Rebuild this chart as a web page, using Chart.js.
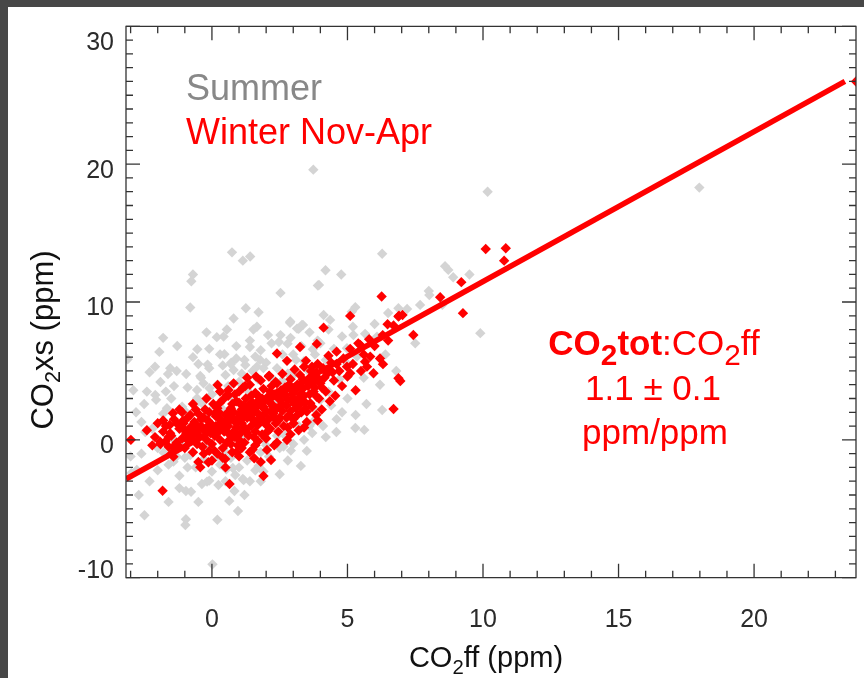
<!DOCTYPE html>
<html><head><meta charset="utf-8">
<script src="https://cdn.jsdelivr.net/npm/chart.js@4"></script>
<style>
html,body{margin:0;padding:0;background:#474747;width:864px;height:678px;overflow:hidden}
#wrap{position:absolute;left:8px;top:7px;width:856px;height:671px;background:#fff}
canvas{display:block}
</style></head><body>
<div id="wrap"><canvas id="c" width="856" height="671"></canvas></div>
<script>
// ---- axis ranges & ticks ----
const xRange = [-3.17, 23.76];
const yRange = [-10, 30];
const xMajorTicks = [0, 5, 10, 15, 20];
const yMajorTicks = [-10, 0, 10, 20, 30];
const xTickLabels = ['0', '5', '10', '15', '20'];
const yTickLabels = ['-10', '0', '10', '20', '30'];

// ---- fit line endpoints ----
const fitLine = [[-3.17, -2.84], [23.35, 26.0]];

// ---- Winter (Nov-Apr) points: [CO2ff, CO2xs] ----
const winterPoints = [
[10.1,13.85],[10.84,13.9],[10.78,13.0],[9.2,11.44],[9.26,9.19],[8.42,10.35],[6.26,10.4],[7.43,7.61],
[5.1,8.99],[6.48,8.39],[6.88,8.94],[7.03,9.06],[4.12,8.14],[3.25,6.74],[3.87,6.96],[2.77,5.73],
[6.31,5.49],[5.47,6.89],[5.84,6.04],[5.96,4.83],[5.65,5.67],[5.72,5.31],[6.88,4.47],[4.98,5.31],
[5.1,4.83],[6.95,4.27],[6.7,2.24],[2.4,6.26],[3.47,5.73],[3.69,5.31],[1.63,4.59],[2.11,4.66],
[23.76,26.0],[-2.99,0.0],[-1.82,-3.69],[0.65,-3.2],[0.21,3.98],[0.61,3.62],[0.55,3.26],[1.23,3.91],
[-1.44,1.93],[-1.56,1.08],[-1.54,0.48],[-1.91,-0.13],[-1.72,-0.13],[-1.42,-0.49],[-1.07,1.39],[-0.86,0.72],
[-0.8,0.23],[-0.55,0.48],[-1.42,-1.22],[-0.43,-1.99],[-0.13,-1.63],[0.49,-1.39],[1.56,-1.34],[1.9,-2.62],
[2.18,-1.46],[2.03,-0.73],[2.77,-0.01],[3.5,2.05],[3.63,2.66],[3.87,3.13],[3.01,3.02],[3.32,3.86],
[3.75,4.22],[2.27,1.93],[3.01,1.2],
[-2.1,0.2],[-1.9,-0.3],[-1.8,0.6],[-1.7,1.0],[-1.6,-0.5],[-1.5,0.3],[-1.4,1.5],[-1.3,-0.2],
[-1.2,0.8],[-1.1,0.1],[-1.05,1.2],[-1.0,-0.6],[-0.95,0.5],[-0.9,1.6],[-0.85,-0.1],[-0.8,0.9],
[-0.75,0.3],[-0.7,-0.9],[-0.65,1.3],[-0.6,0.6],[-0.55,-0.3],[-0.5,1.9],[-0.45,0.2],[-0.4,1.0],
[-0.35,-0.5],[-0.3,0.7],[-0.25,2.2],[-0.2,0.0],[-0.15,1.4],[-0.1,-0.8],[-0.05,0.5],[0.0,1.1],
[0.0,-0.3],[0.05,2.6],[0.1,0.3],[0.15,1.7],[0.2,-1.0],[0.2,0.8],[0.25,2.0],[0.3,0.0],
[0.35,1.3],[0.4,-0.6],[0.4,2.9],[0.45,0.6],[0.5,1.8],[0.55,-0.2],[0.6,1.0],[0.6,3.2],
[0.65,0.4],[0.7,2.3],[0.75,-0.9],[0.8,1.5],[0.85,0.2],[0.9,2.8],[0.9,0.9],[0.95,-0.4],
[1.0,1.9],[1.0,3.5],[1.05,0.5],[1.1,1.2],[1.15,2.5],[1.2,-0.2],[1.2,0.9],[1.25,3.0],
[1.3,1.6],[1.35,0.3],[1.4,2.1],[1.4,4.0],[1.45,1.0],[1.5,-0.7],[1.5,2.7],[1.55,1.4],
[1.6,0.6],[1.6,3.4],[1.65,2.0],[1.7,-0.1],[1.7,1.1],[1.75,2.9],[1.8,1.7],[1.8,4.3],
[1.85,0.4],[1.9,2.4],[1.9,3.7],[1.95,1.3],[2.0,0.1],[2.0,2.0],[2.05,3.1],[2.1,1.5],
[2.1,4.6],[2.15,0.8],[2.2,2.6],[2.2,3.9],[2.25,1.9],[2.3,-0.4],[2.3,3.3],[2.35,1.2],
[2.4,2.3],[2.4,4.1],[2.45,0.6],[2.5,2.9],[2.5,1.6],[2.55,3.6],[2.6,2.1],[2.6,4.8],
[2.65,1.0],[2.7,3.2],[2.75,2.5],[2.8,0.9],[2.8,3.9],[2.85,1.8],[2.9,4.4],[2.95,2.8],
[3.0,1.5],[3.0,3.5],[3.05,5.1],[3.1,2.3],[3.15,4.0],[3.2,0.7],[3.2,3.0],[3.25,4.7],
[3.3,2.0],[3.35,3.7],[3.4,5.3],[3.45,2.7],[3.5,4.2],[3.5,1.3],[3.6,3.3],[3.65,5.0],
[3.7,2.4],[3.75,4.5],[3.8,3.8],[3.85,1.8],[3.9,5.5],[3.95,3.0],[4.0,4.1],[4.05,2.2],
[4.1,5.2],[4.2,3.5],[4.25,4.8],[4.3,6.1],[4.35,2.8],[4.4,5.6],[4.5,4.3],[4.55,3.2],
[4.6,6.4],[4.7,5.0],[4.8,3.9],[4.85,5.9],[5.0,4.6],[5.1,6.6],[5.2,5.5],[5.3,3.6],
[5.4,7.0],[5.5,5.0],[5.6,6.2],[5.8,7.3],[6.0,6.8],[6.2,5.9],[6.3,7.6],[6.5,7.2],
[6.7,8.3],[6.9,9.0],
[0.0,-1.5],[0.5,-2.0],[-0.5,-1.6],[1.0,-1.2],[1.8,-1.6],[-1.5,-1.0],[-2.0,1.2],[-1.2,2.2],
[-0.7,2.6],[-0.2,3.0],[0.3,3.5],[0.8,4.1],[1.3,4.5],[1.1,-0.6],[0.7,-0.3],[1.6,-0.4],
[2.4,-0.2],[2.9,0.4],[3.4,0.9],[3.9,1.4],[0.3,1.5],[0.6,2.0],[0.9,1.2],[1.2,1.7],
[1.5,1.9],[1.8,2.5],[2.1,2.8],[2.4,3.4],[2.7,3.8],[1.1,2.2],[1.4,2.6],[1.7,3.2],
[0.2,0.5],[0.5,0.9],[0.8,0.6],[1.0,0.0],[1.3,0.5],[1.6,1.3],[2.0,1.1],[2.3,1.6],
[2.6,2.6],[2.9,2.1],[3.2,2.5],[3.4,3.2],[-0.3,1.6],[-0.6,1.1],[-0.9,0.0],[-1.2,-0.5],
[0.1,1.9],[0.3,2.7],[0.45,1.1],[0.65,1.7],[0.75,2.6],[0.85,3.3],[0.95,0.3],[1.05,1.5],
[1.15,3.8],[1.25,0.7],[1.35,2.3],[1.45,3.2],[1.55,0.2],[1.65,2.7],[1.75,1.5],[1.85,3.0],
[1.95,2.2],[2.05,0.6],[2.15,3.5],[2.25,2.4],[2.35,4.2],[2.45,1.4],[2.55,2.5],[2.65,3.4],
[2.75,1.6],[2.85,4.0],[2.95,3.3],[3.05,2.6],[3.15,1.8],[3.25,3.3],[3.35,4.4],[3.45,2.3],
[3.55,3.9],[3.65,4.6],[3.75,3.5],[3.85,4.9],[3.95,4.4],[4.05,3.8],[4.15,4.5],[4.3,5.1],
[4.45,4.9],[4.6,5.5],[-0.1,2.0],[-0.2,0.9],[-0.4,1.5],[-0.6,2.2],[-0.8,1.8],[-1.0,0.7],
[-1.1,2.0],[-1.3,1.2],[-1.6,0.2],[-1.8,1.4],[-2.2,-0.4],[-2.4,0.7],[-0.3,-1.0],[0.1,-0.8],
[0.4,-1.3],[0.9,-0.9],[1.4,-0.9],[0.35,0.9],[0.55,1.4],[0.15,1.0],[0.7,0.1],[0.8,2.0],
[1.0,2.7],[1.25,2.0],[1.45,1.6],[1.6,2.3],[1.9,1.8],[2.2,2.1],[2.5,3.3],[2.8,2.9],
[3.1,3.7],[3.3,2.8],[3.6,4.1],[0.2,2.3],[-0.5,0.9],[-0.7,0.0],[0.0,0.6],[0.6,0.5]
];

// ---- Summer points: [CO2ff, CO2xs] ----
const summerPoints = [
[3.74,19.6],[10.17,18.0],[17.98,18.3],[0.74,13.6],[1.14,13.0],[1.41,13.3],[-0.7,12.0],[-0.76,11.5],
[2.53,10.66],[3.91,11.2],[-0.8,9.6],[1.25,9.55],[1.72,9.26],[2.88,8.5],[3.36,8.34],[3.14,8.07],
[0.55,8.0],[0.18,7.45],[0.43,7.49],[1.53,8.0],[1.66,8.2],[2.07,7.6],[2.53,7.6],[2.47,7.1],
[2.79,6.98],[3.72,6.57],[-1.94,6.38],[-1.28,6.81],[-0.54,6.57],[-0.16,5.46],[0.46,6.21],[1.4,6.74],
[0.71,5.6],[0.8,5.07],[-1.54,5.2],[-1.62,4.78],[-0.95,4.78],[-0.43,4.64],[1.23,5.43],[1.6,6.04],
[1.78,5.8],[1.66,5.31],[1.9,5.2],[-3.11,5.85],[6.28,13.5],[4.19,12.3],[4.77,12.0],[3.95,11.24],
[8.72,12.33],[9.9,7.74],[8.02,10.5],[7.68,9.79],[5.29,9.62],[5.16,9.3],[6.88,9.55],[4.12,9.06],
[4.36,8.7],[2.89,8.58],[3.32,8.34],[3.2,8.05],[5.22,7.61],[5.65,7.69],[6.09,7.49],[4.98,6.65],
[5.35,6.04],[5.29,0.86],[4.59,0.57],[5.62,0.72],[6.28,2.17],[-2.97,-2.4],[-2.49,-5.47],[-0.96,-3.71],
[-0.77,-3.76],[-0.96,-5.76],[-0.98,-6.18],[-0.37,-3.2],[-0.18,-3.03],[-0.1,-2.96],[0.24,-3.27],[0.64,-4.43],
[0.83,-3.71],[0.96,-5.16],[1.17,-2.91],[0.02,-9.03],[-2.09,3.26],[-2.06,2.9],[-1.66,2.29],[-2.77,-2.18],
[1.72,-1.89],[1.14,-2.84],[0.86,-2.55],[0.53,-2.13],[0.77,-2.04],[3.28,-1.89],[2.91,-0.78],[2.64,-0.49],
[3.73,1.32],[-1.42,-1.58],[-1.78,-0.93],[-0.8,-1.1],[-0.55,3.02],[-0.37,2.66],[-0.55,3.62],[-0.31,4.1],
[-0.09,3.74],[-2.46,0.57],[8.6,12.6],[8.9,11.8],
[-2.8,2.0],[-2.6,-1.0],[-2.4,3.5],[-2.2,0.8],[-2.0,-2.2],[-1.9,4.2],[-1.8,1.9],[-1.6,-1.8],
[-1.5,3.0],[-1.4,0.0],[-1.3,5.0],[-1.2,-2.6],[-1.1,2.4],[-1.0,-1.3],[-0.9,3.8],[-0.8,0.4],
[-0.7,6.0],[-0.6,-2.0],[-0.5,2.8],[-0.4,4.5],[-0.3,-1.4],[-0.2,1.6],[-0.1,5.2],[0.0,-2.3],
[0.0,3.3],[0.1,0.9],[0.2,4.0],[0.3,-1.8],[0.3,6.2],[0.4,2.2],[0.5,-3.0],[0.5,4.7],
[0.6,1.3],[0.7,5.5],[0.7,-1.3],[0.8,3.0],[0.9,6.8],[1.0,-2.0],[1.0,4.2],[1.1,0.2],
[1.2,5.8],[1.3,-1.5],[1.3,3.6],[1.4,7.2],[1.5,0.9],[1.5,5.0],[1.6,-2.2],[1.7,4.4],
[1.8,6.5],[1.9,0.0],[2.0,5.6],[2.1,-1.2],[2.2,7.0],[2.3,2.8],[2.4,5.2],[2.5,-0.6],
[2.6,6.2],[2.7,0.3],[2.8,4.8],[2.9,7.4],[3.0,-0.3],[3.1,5.8],[3.2,1.0],[3.3,6.8],
[3.4,0.0],[3.5,5.1],[3.6,7.8],[3.7,0.5],[3.8,6.2],[3.9,2.0],[4.0,7.0],[4.1,1.0],
[4.2,5.8],[4.3,8.0],[4.4,2.5],[4.5,6.6],[4.6,1.5],[4.8,7.5],[5.0,3.0],[5.2,8.2],
[5.3,1.8],[5.5,6.8],[5.7,2.6],[6.0,8.4],[6.2,4.0],[6.5,9.2],[6.8,5.0],[7.2,9.5],
[7.5,7.0],[8.0,10.8],[8.5,9.8],[9.5,12.0],[-3.0,-1.2],[-2.7,-4.0],[-2.3,-3.0],[-1.6,-4.5],
[-1.2,-3.5],[-0.5,-4.5],[0.2,-5.8],[1.2,-4.0],[1.8,-3.0],[2.5,-2.5],[-1.8,7.4],[-2.3,4.9],
[-0.2,7.8],[0.8,8.8],[-1.0,2.1],[-0.6,0.9],[0.1,2.4],[0.6,3.9],[1.1,4.8],[2.3,4.3],
[3.0,4.7],[3.6,1.0],[4.0,2.9],[-0.2,-0.4],[0.5,-0.9],[1.8,-0.9],[2.4,0.3],[-1.4,3.9],
[-2.5,2.6],[-2.1,5.3],[-1.7,3.5],[-1.3,-1.2],[-0.9,-2.0],[-0.5,5.5],[-0.1,6.6],[0.4,5.4],
[0.9,5.9],[1.4,-3.0],[1.9,-2.3],[2.6,4.3],[3.0,6.2],[3.4,5.7],[3.9,7.2],[4.3,3.5],
[4.7,4.4],[5.0,5.5],[5.6,4.5],[6.4,6.2],[-2.9,3.6],[-2.6,1.3],[-2.0,-0.6],[-1.1,-0.4],
[0.2,-1.2],[2.0,-0.4],[2.8,-1.5],[3.5,-0.8],[4.2,0.2],[4.8,2.0]
];

const toXY = arr => arr.map(p => ({x: p[0], y: p[1]}));

const FONT = '"Liberation Sans", Arial, Helvetica, sans-serif';

function drawRich(ctx, segs, size, cx, baseY, rotate, subScale, subDrop) {
  const fontFor = s => (s.bold ? 'bold ' : '') + (s.sub ? size*subScale : size) + 'px ' + FONT;
  let total = 0;
  const widths = segs.map(s => { ctx.font = fontFor(s); const w = ctx.measureText(s.t).width; total += w; return w; });
  ctx.save();
  ctx.translate(cx, baseY);
  if (rotate) ctx.rotate(rotate);
  let x = -total / 2;
  ctx.textAlign = 'left';
  ctx.textBaseline = 'alphabetic';
  segs.forEach((s, i) => {
    ctx.font = fontFor(s);
    ctx.fillText(s.t, x, s.sub ? size*subDrop : 0);
    x += widths[i];
  });
  ctx.restore();
}

const framePlugin = {
  id: 'frame',
  afterDatasetsDraw(chart) {
    const {ctx, chartArea: a, scales: {x, y}} = chart;
    ctx.save();
    ctx.strokeStyle = '#333';
    ctx.lineWidth = 1.3;
    ctx.beginPath();
    ctx.rect(a.left, a.top, a.right - a.left, a.bottom - a.top);
    ctx.stroke();
    ctx.beginPath();
    for (let v = Math.ceil(xRange[0]); v <= Math.floor(xRange[1]); v++) {
      const px = x.getPixelForValue(v);
      const L = xMajorTicks.includes(v) ? 14 : 7;
      ctx.moveTo(px, a.bottom); ctx.lineTo(px, a.bottom - L);
      ctx.moveTo(px, a.top); ctx.lineTo(px, a.top + L);
    }
    for (let v = yRange[0]; v <= yRange[1]; v++) {
      const py = y.getPixelForValue(v);
      const L = yMajorTicks.includes(v) ? 14 : 7;
      ctx.moveTo(a.left, py); ctx.lineTo(a.left + L, py);
      ctx.moveTo(a.right, py); ctx.lineTo(a.right - L, py);
    }
    ctx.stroke();

    // tick labels
    ctx.fillStyle = '#2b2b2b';
    ctx.font = '25px ' + FONT;
    ctx.textBaseline = 'alphabetic';
    ctx.textAlign = 'center';
    xMajorTicks.forEach((v, i) => {
      ctx.fillText(xTickLabels[i], x.getPixelForValue(v), a.bottom + 49);
    });
    ctx.textAlign = 'right';
    yMajorTicks.forEach((v, i) => {
      let by = y.getPixelForValue(v) + 13.4;
      by = Math.max(a.top + 23.7, Math.min(a.bottom, by));
      ctx.fillText(yTickLabels[i], a.left - 12, by);
    });

    // axis titles
    ctx.fillStyle = '#111';
    drawRich(ctx, [{t:'CO'},{t:'2',sub:true},{t:'ff (ppm)'}], 29, 478, a.bottom + 89.5, 0, 0.7, 0.22);
    drawRich(ctx, [{t:'CO'},{t:'2',sub:true},{t:'xs (ppm)'}], 31, 45, 333, -Math.PI/2, 0.7, 0.22);

    // legend texts
    ctx.font = '36px ' + FONT;
    ctx.textAlign = 'left';
    ctx.fillStyle = '#888888';
    ctx.fillText('Summer', 178, 92.5);
    ctx.fillStyle = '#ff0000';
    ctx.fillText('Winter Nov-Apr', 178, 137);

    // ratio annotation
    ctx.fillStyle = '#ff0000';
    drawRich(ctx, [{t:'CO',bold:true},{t:'2',bold:true,sub:true},{t:'tot',bold:true},{t:':CO'},{t:'2',sub:true},{t:'ff'}], 35, 646, 348, 0, 0.85, 0.28);
    drawRich(ctx, [{t:'1.1 \u00b1 0.1'}], 35, 645, 393, 0, 0.85, 0.28);
    drawRich(ctx, [{t:'ppm/ppm'}], 35, 647, 437, 0, 0.85, 0.28);
    ctx.restore();
  }
};

new Chart(document.getElementById('c'), {
  type: 'scatter',
  data: {
    datasets: [
      { label: 'Winter Nov-Apr', data: toXY(winterPoints), pointStyle: 'rectRot', pointRadius: 5.2,
        backgroundColor: '#ff0000', borderWidth: 0, pointHoverRadius: 5.2 },
      { label: 'fit', data: toXY(fitLine), showLine: true, borderColor: '#ff0000', borderWidth: 5.5,
        pointRadius: 0, fill: false, borderCapStyle: 'butt' },
      { label: 'Summer', data: toXY(summerPoints), pointStyle: 'rectRot', pointRadius: 5.2,
        backgroundColor: '#d4d4d4', borderWidth: 0, pointHoverRadius: 5.2 }
    ]
  },
  options: {
    responsive: false,
    animation: false,
    devicePixelRatio: 1,
    events: [],
    layout: { padding: { left: 118, top: 19.3, right: 8, bottom: 100.3 } },
    plugins: { legend: { display: false }, tooltip: { enabled: false } },
    scales: {
      x: { type: 'linear', min: xRange[0], max: xRange[1], display: false },
      y: { type: 'linear', min: yRange[0], max: yRange[1], display: false }
    }
  },
  plugins: [framePlugin]
});
</script>
</body></html>
